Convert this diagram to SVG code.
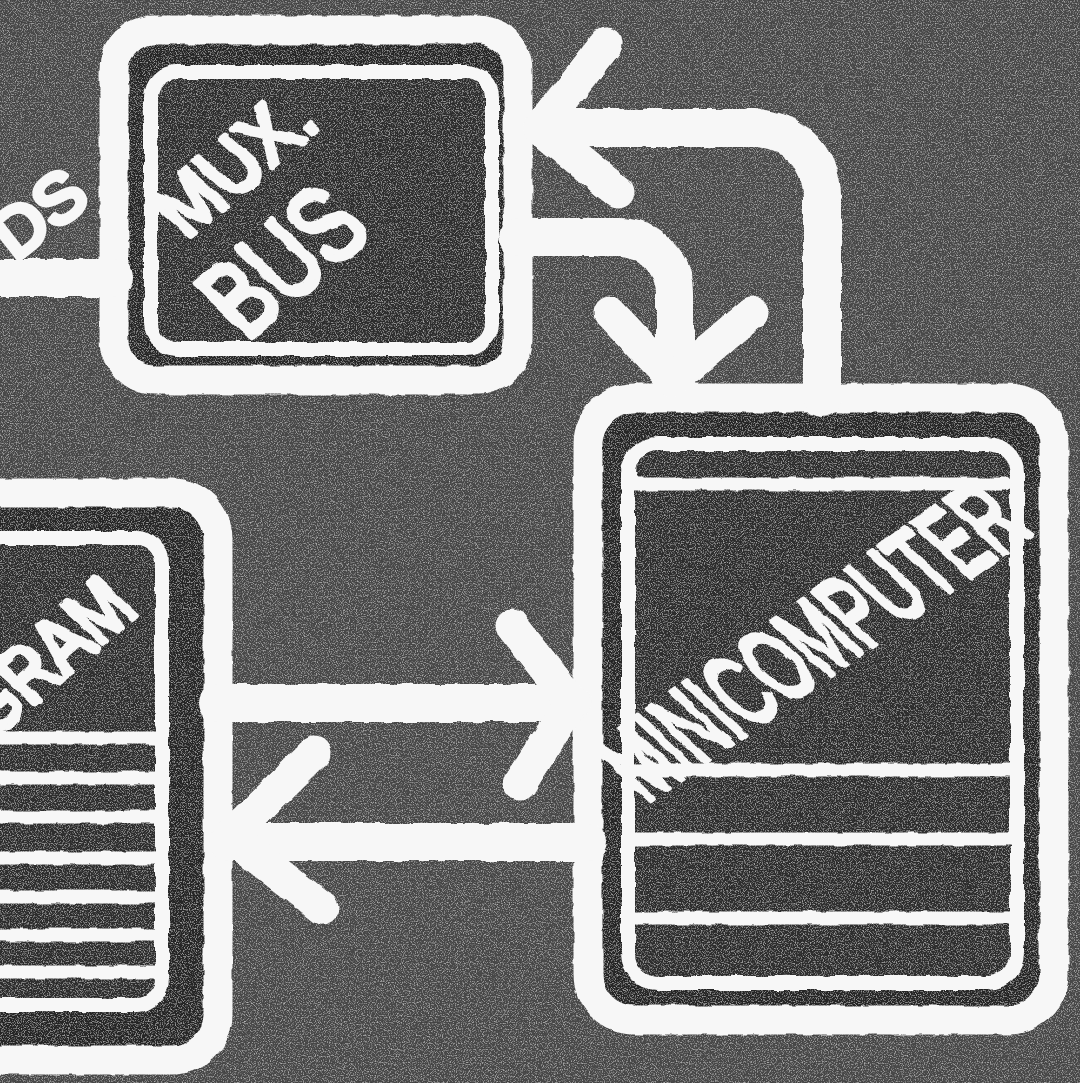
<svg xmlns="http://www.w3.org/2000/svg" width="1080" height="1083" viewBox="0 0 1080 1083">
  <defs>
    <style>
      .chalk{fill:none;stroke:#f7f7f7;stroke-linecap:round;stroke-linejoin:round}
      .outer{stroke-width:29}
      .inner{stroke-width:14}
      .rule{stroke-width:13}
      .conn{stroke-width:38}
      .head{stroke-width:33}
      .boxfill{fill:#262626}
      .innerfill{fill:#2e2e2e}
      .label{font-family:"Liberation Sans",Arial,sans-serif;fill:#f7f7f7;stroke:#f7f7f7;stroke-width:6;stroke-linejoin:round}
    </style>
    <filter id="rough" x="-5%" y="-5%" width="110%" height="110%">
      <feTurbulence type="fractalNoise" baseFrequency="0.06" numOctaves="2" seed="4" result="t"/>
      <feDisplacementMap in="SourceGraphic" in2="t" scale="5" xChannelSelector="R" yChannelSelector="G"/>
    </filter>
    <filter id="grain" x="0" y="0" width="100%" height="100%">
      <feTurbulence type="fractalNoise" baseFrequency="0.85" numOctaves="2" seed="7" result="n"/>
      <feColorMatrix in="n" type="matrix" values="0 0 0 0 1  0 0 0 0 1  0 0 0 0 1  1.2 0 0 0 -0.6" result="light"/>
      <feColorMatrix in="n" type="matrix" values="0 0 0 0 0  0 0 0 0 0  0 0 0 0 0  -1.3 0 0 0 0.55" result="dark"/>
      <feMerge result="m">
        <feMergeNode in="SourceGraphic"/>
        <feMergeNode in="light"/>
        <feMergeNode in="dark"/>
      </feMerge>
      <feComposite in="m" in2="SourceGraphic" operator="in"/>
    </filter>
  </defs>

  <rect x="0" y="0" width="1080" height="1083" fill="#4a4a4a" filter="url(#grain)"/>

  <g id="node-ds-label">
    <text class="label" font-size="68" text-anchor="end" textLength="98" lengthAdjust="spacingAndGlyphs" transform="translate(92,202) rotate(-38)">DS</text>
  </g>

  <g id="node-mux-bus">
    <rect class="boxfill" x="114" y="30" width="404" height="350" rx="40" filter="url(#grain)"/>
    <rect class="innerfill" x="151" y="72" width="341" height="277" rx="26" filter="url(#grain)"/>
    <g filter="url(#rough)">
      <rect class="chalk outer" x="114" y="30" width="404" height="350" rx="40"/>
      <rect class="chalk inner" x="151" y="72" width="341" height="277" rx="26"/>
      <text class="label" font-size="80" textLength="178" lengthAdjust="spacingAndGlyphs" transform="translate(186,240) rotate(-40) skewX(8)">MUX.</text>
      <text class="label" font-size="112" textLength="168" lengthAdjust="spacingAndGlyphs" transform="translate(246,342) rotate(-40) skewX(6)">BUS</text>
    </g>
  </g>

  <g id="node-minicomputer">
    <rect class="boxfill" x="588" y="398" width="466" height="622" rx="46" filter="url(#grain)"/>
    <rect class="innerfill" x="628" y="444" width="389" height="539" rx="30" filter="url(#grain)"/>
    <g filter="url(#rough)">
      <rect class="chalk outer" x="588" y="398" width="466" height="622" rx="46"/>
      <rect class="chalk inner" x="628" y="444" width="389" height="539" rx="30"/>
      <path class="chalk rule" d="M628 484 H1005 M630 770 H1017 M630 839 H1017 M630 918 H1017"/>
      <text class="label" font-size="112" textLength="474" lengthAdjust="spacingAndGlyphs" transform="translate(646,804) rotate(-35) skewX(12)">MINICOMPUTER</text>
    </g>
  </g>

  <g id="node-program">
    <rect class="boxfill" x="-60" y="493" width="278" height="567" rx="46" filter="url(#grain)"/>
    <rect class="innerfill" x="-40" y="538" width="202" height="467" rx="26" filter="url(#grain)"/>
    <g filter="url(#rough)">
      <rect class="chalk outer" x="-60" y="493" width="278" height="567" rx="46"/>
      <rect class="chalk inner" x="-40" y="538" width="202" height="467" rx="26"/>
      <path class="chalk rule" d="M-10 738 H160 M-10 778 H160 M-10 817 H162 M-10 858 H162 M-10 897 H162 M-10 935 H162 M-10 972 H162"/>
      <text class="label" font-size="82" text-anchor="end" textLength="196" lengthAdjust="spacingAndGlyphs" transform="translate(140,612) rotate(-41) skewX(6)">GRAM</text>
    </g>
  </g>

  <g id="connectors" filter="url(#rough)">
    <path class="chalk conn" d="M-20 278 H114"/>
    <path class="chalk conn" d="M822 398 V196 A68 68 0 0 0 754 128 H542"/>
    <path class="chalk head" d="M606 44 L540 128 L618 192"/>
    <path class="chalk conn" d="M518 237 H618 A57 57 0 0 1 675 294 V376"/>
    <path class="chalk head" d="M610 313 L673 380 L752 313"/>
    <path class="chalk conn" d="M218 703 H572"/>
    <path class="chalk head" d="M512 626 L572 702 L520 784"/>
    <path class="chalk conn" d="M588 842 H228"/>
    <path class="chalk head" d="M314 753 L230 836 L322 908"/>
  </g>
</svg>
